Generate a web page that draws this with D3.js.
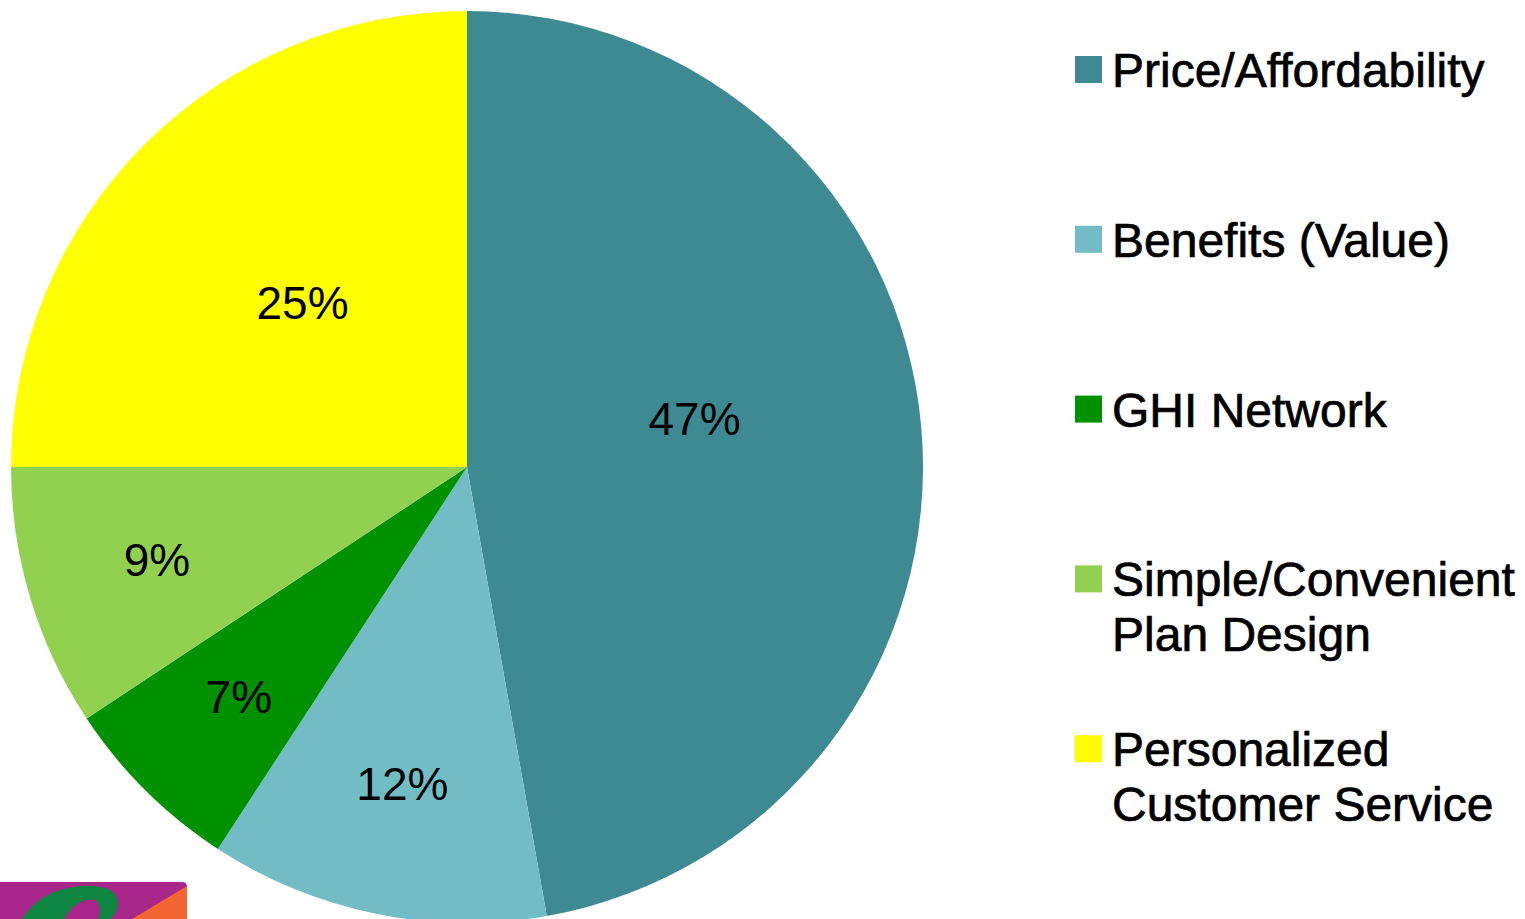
<!DOCTYPE html>
<html lang="en">
<head>
  <meta charset="UTF-8">
  <title>Purchase Drivers Pie</title>
  <script src="https://d3js.org/d3.v7.min.js"></script>
  <style>
    html, body { margin: 0; padding: 0; background: #fff; overflow: hidden; }
    svg { font-family: "Liberation Sans", Arial, sans-serif; display: block; }
  </style>
</head>
<body>
  <svg id="chart" width="1525" height="919"></svg>

  <script>
    const categories = ["Price/Affordability", "Benefits (Value)", "GHI Network",
                        "Simple/Convenient\nPlan Design", "Personalized\nCustomer Service"];
    // shares; labels as printed
    const shares = [47.2, 12.0, 6.5, 9.3, 25.0];
    const pctLabels = ["47%", "12%", "7%", "9%", "25%"];
    const colors = ["#3E8A92", "#72BDC5", "#009100", "#92D050", "#FFFF00"];

    const svg = d3.select("#chart");
    const cx = 467, cy = 467, radius = 456;

    const g = svg.append("g").attr("transform", `translate(${cx},${cy})`);

    const pie = d3.pie().sort(null).value(d => d);
    const arcs = pie(shares);

    const arc = d3.arc().innerRadius(0).outerRadius(radius);

    g.selectAll(".slice")
      .data(arcs)
      .enter()
      .append("path")
      .attr("class", "slice")
      .attr("d", arc)
      .attr("fill", (d, i) => colors[i]);

    // labels: big slices sit nearer the middle
    const labelPos = d => {
      const big = (d.endAngle - d.startAngle) > 1.2;
      const r = big ? radius * 0.51 : radius * 0.71;
      const a = (d.startAngle + d.endAngle) / 2 - (d.endAngle - d.startAngle > 2.5 ? 0.12 : 0);
      return [Math.sin(a) * r, -Math.cos(a) * r];
    };

    g.selectAll(".pct")
      .data(arcs)
      .enter()
      .append("text")
      .attr("class", "pct")
      .attr("x", d => labelPos(d)[0])
      .attr("y", d => labelPos(d)[1])
      .attr("text-anchor", "middle")
      .attr("dy", "0.35em")
      .style("font-size", "46px")
      .attr("fill", "#000")
      .text((d, i) => pctLabels[i]);

    // legend
    const legend = svg.append("g").attr("transform", "translate(1075,0)");
    const item = legend.selectAll(".item")
      .data(categories)
      .enter()
      .append("g")
      .attr("class", "item")
      .attr("transform", (d, i) => `translate(0,${87 + i * 169.8})`);

    item.append("rect")
      .attr("x", 0)
      .attr("y", -31)
      .attr("width", 27)
      .attr("height", 27)
      .attr("fill", (d, i) => colors[i]);

    const txt = item.append("text")
      .attr("x", 37)
      .style("font-size", "48px")
      .attr("fill", "#000")
      .attr("stroke", "#000")
      .attr("stroke-width", 0.7);

    txt.selectAll("tspan")
      .data(d => d.split("\n"))
      .enter()
      .append("tspan")
      .attr("x", 37)
      .attr("dy", (d, i) => i === 0 ? 0 : 55)
      .text(d => d);

    // corner logo fragment
    const logo = svg.append("g").attr("transform", "translate(0,882)");
    logo.append("path")
      .attr("d", "M0,0 H182 Q187,0 187,5 V37 H0 Z")
      .attr("fill", "#A8268A");
    logo.append("path")
      .attr("d", "M132,37 L187,4 V37 Z")
      .attr("fill", "#F26430");
    logo.append("path")
      .attr("d", "M22,37 Q40,8 80,4 Q118,2 118,22 Q117,33 110,37 L98,37 Q103,24 95,18 Q78,14 64,37 Z")
      .attr("fill", "#0C8540");
  </script>
</body>
</html>
